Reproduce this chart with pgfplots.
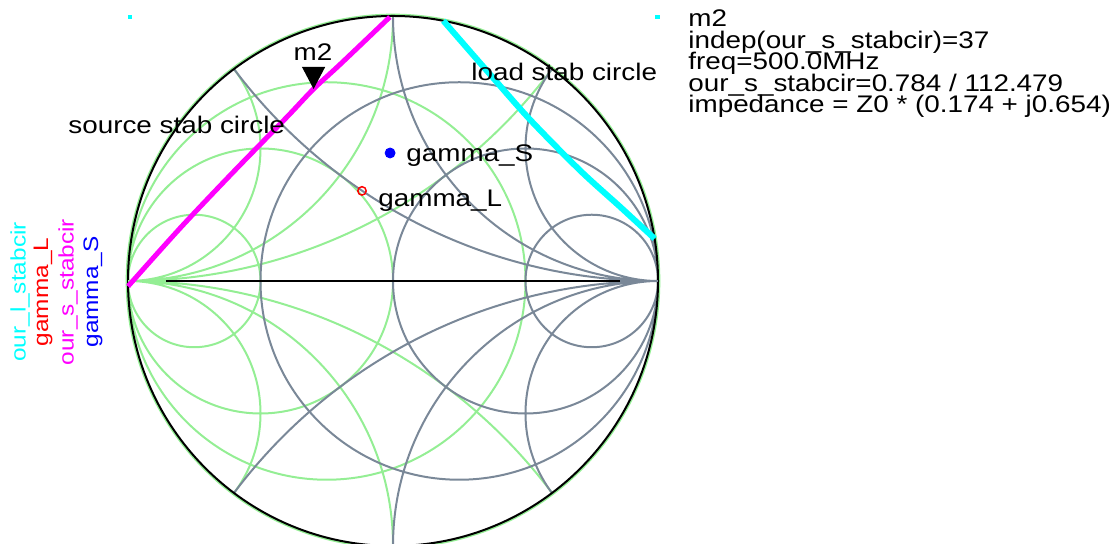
\documentclass[border=0pt]{standalone}
\usepackage{fontspec}
\newfontfamily\adsfont{Liberation Sans}[FakeStretch=1.16]
\usepackage{pgfplots}
\pgfplotsset{compat=1.18}
\definecolor{gridgray}{HTML}{7A8898}
\definecolor{gridgreen}{HTML}{94EE94}
\definecolor{stabcyan}{HTML}{00FFFF}
\definecolor{stabmag}{HTML}{FF00FF}

% marker triangle pointing down, tip on the data point
\pgfdeclareplotmark{mtri}{%
  \pgfpathmoveto{\pgfqpoint{0pt}{0pt}}%
  \pgfpathlineto{\pgfqpoint{-5.8pt}{11pt}}%
  \pgfpathlineto{\pgfqpoint{5.8pt}{11pt}}%
  \pgfpathclose\pgfusepathqfill}

\tikzset{
  lbl/.style={font=\adsfont\fontsize{12pt}{13pt}\selectfont, inner sep=0pt},
  leg/.style={font=\adsfont\fontsize{10.5pt}{12pt}\selectfont, inner sep=0pt, rotate=90},
}

\begin{document}
\begin{tikzpicture}
\begin{axis}[
  hide axis, scale only axis,
  width=559pt, height=272pt,
  xmin=-1.48302, xmax=2.73585, ymin=-0.99245, ymax=1.06038,
  clip=false,
]
% smith chart grid
\begin{scope}
  \clip (axis cs:0,0) circle[radius=1];
  \draw[gridgreen, line width=1pt]
    (axis cs:-0.25,0) circle[radius=0.75]
    (axis cs:-0.5,0) circle[radius=0.5]
    (axis cs:-0.75,0) circle[radius=0.25]
    (axis cs:-1,2) circle[radius=2]
    (axis cs:-1,-2) circle[radius=2]
    (axis cs:-1,1) circle[radius=1]
    (axis cs:-1,-1) circle[radius=1]
    (axis cs:-1,0.5) circle[radius=0.5]
    (axis cs:-1,-0.5) circle[radius=0.5];
  \draw[gridgray, line width=1pt]
    (axis cs:0.25,0) circle[radius=0.75]
    (axis cs:0.5,0) circle[radius=0.5]
    (axis cs:0.75,0) circle[radius=0.25]
    (axis cs:1,2) circle[radius=2]
    (axis cs:1,-2) circle[radius=2]
    (axis cs:1,1) circle[radius=1]
    (axis cs:1,-1) circle[radius=1]
    (axis cs:1,0.5) circle[radius=0.5]
    (axis cs:1,-0.5) circle[radius=0.5];
\end{scope}
\draw[gridgreen, line width=1pt] (axis cs:0,0) circle[radius=1.005];
\draw[black, line width=1pt] (axis cs:0,0) circle[radius=1];
\draw[gridgreen, line width=1pt] (axis cs:-1,0) -- (axis cs:0,0);
\draw[gridgray, line width=1pt] (axis cs:0,0) -- (axis cs:1,0);
\draw[black, line width=1pt] (axis cs:-0.857,0) -- (axis cs:0.857,0);

% source stability circle
\addplot[draw=stabmag, line width=2.5pt, smooth, line cap=butt] coordinates {
  (-0.9998,-0.02) (-0.8,0.203) (-0.6,0.414) (-0.4,0.619) (-0.3,0.7245) (-0.2,0.817) (-0.012,0.996)
};
% load stability circle
\addplot[draw=stabcyan, line width=3pt, smooth, line cap=butt] coordinates {
  (0.19,0.982) (0.366,0.780) (0.517,0.609) (0.706,0.417) (0.857,0.280) (0.987,0.160)
};
\addplot[only marks, mark=square*, stabcyan, mark size=0.8pt] coordinates {(-0.9925,0.996) (0.998,0.996)};
% gamma_S, gamma_L
\addplot[only marks, mark=*, blue, mark size=2.5pt] coordinates {(-0.011,0.483)};
\addplot[only marks, mark=o, red, mark size=2.1pt, line width=0.75pt] coordinates {(-0.117,0.340)};
% marker m2
\addplot[only marks, mark=mtri, black] coordinates {(-0.2997,0.7245)};

\node[lbl, anchor=center] at (axis cs:-0.3019,0.8642) {m2};
\node[lbl, anchor=west] at (axis cs:0.2943,0.7887) {load stab circle};
\node[lbl, anchor=west] at (axis cs:-1.2264,0.5887) {source stab circle};
\node[lbl, anchor=west] at (axis cs:0.0491,0.4717) {gamma\_S};
\node[lbl, anchor=west] at (axis cs:-0.0566,0.3019) {gamma\_L};

\node[lbl, anchor=base west] at (axis cs:1.1132,0.9585) {m2};
\node[lbl, anchor=base west] at (axis cs:1.1132,0.8774) {indep(our\_s\_stabcir)=37};
\node[lbl, anchor=base west] at (axis cs:1.1132,0.7962) {freq=500.0MHz};
\node[lbl, anchor=base west] at (axis cs:1.1132,0.7151) {our\_s\_stabcir=0.784 / 112.479};
\node[lbl, anchor=base west] at (axis cs:1.1132,0.6340) {impedance = Z0 * (0.174 + j0.654)};

\node[leg, text=stabcyan] at (axis cs:-1.4075,-0.0415) {our\_l\_stabcir};
\node[leg, text=red] at (axis cs:-1.3208,-0.0415) {gamma\_L};
\node[leg, text=stabmag] at (axis cs:-1.2264,-0.0415) {our\_s\_stabcir};
\node[leg, text=blue] at (axis cs:-1.1321,-0.0415) {gamma\_S};
\end{axis}
\pgfresetboundingbox
\path (current axis.south west) rectangle (current axis.north east);
\end{tikzpicture}
\end{document}
